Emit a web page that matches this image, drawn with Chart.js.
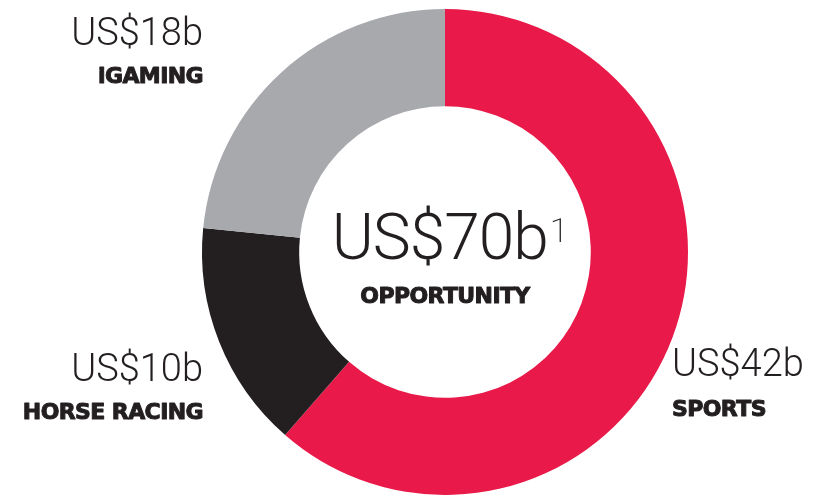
<!DOCTYPE html>
<html>
<head>
<meta charset="utf-8">
<script src="https://cdn.jsdelivr.net/npm/chart.js@4"></script>
<style>
  html, body { margin: 0; padding: 0; background: #fff; }
  #wrap { width: 828px; height: 495px; position: relative; }
</style>
</head>
<body>
<div id="wrap"><canvas id="myChart"></canvas></div>
<script>
// order: clockwise from 12 o'clock
var segments = ['SPORTS', 'HORSE RACING', 'iGAMING'];
// arc shares as drawn in the picture (labelled 42 / 10 / 18)
var values = [43, 10.6, 16.4];
var valueLabels = ['US$42b', 'US$10b', 'US$18b'];
var colors = ['#e91a4a', '#231f20', '#a7a9ac'];
var totalLabel = 'US$70b';
var totalNote = '1';
var totalName = 'OPPORTUNITY';

// label blocks: x, baseline of value, baseline of name, align
var labelPos = [
  { x: 672, y: 376, y2: 416, align: 'left' },
  { x: 203, y: 381, y2: 419, align: 'right' },
  { x: 203, y: 45, y2: 83, align: 'right' }
];

var thin = '300 38px Roboto';
var heavy = 'bold 22px "DejaVu Sans"';

function heavyText(ctx, s, x, y) {
  ctx.font = heavy;
  ctx.letterSpacing = '-0.6px';
  ctx.lineWidth = 1;
  ctx.lineJoin = 'round';
  ctx.strokeStyle = '#231f20';
  ctx.fillText(s, x, y);
  ctx.strokeText(s, x, y);
  ctx.letterSpacing = '0px';
}

var labelPlugin = {
  id: 'labels',
  afterDraw: function(chart) {
    var ctx = chart.ctx;
    var arc = chart.getDatasetMeta(0).data[0];
    ctx.save();
    ctx.fillStyle = '#231f20';
    ctx.textBaseline = 'alphabetic';
    segments.forEach(function(name, i) {
      var p = labelPos[i];
      ctx.textAlign = p.align;
      ctx.font = thin;
      ctx.fillText(valueLabels[i], p.x, p.y);
      heavyText(ctx, name, p.x, p.y2);
    });
    // centre text
    var cx = arc.x;
    ctx.font = '300 64px Roboto';
    ctx.letterSpacing = '-1px';
    var w = ctx.measureText(totalLabel).width;
    ctx.font = '200 34px Roboto';
    ctx.letterSpacing = '0px';
    var wn = ctx.measureText(totalNote).width;
    var left = cx - (w + 4 + wn) / 2 + 6;
    ctx.textAlign = 'left';
    ctx.font = '300 64px Roboto';
    ctx.letterSpacing = '-1px';
    ctx.fillText(totalLabel, left, 259);
    ctx.letterSpacing = '0px';
    ctx.font = '200 34px Roboto';
    ctx.fillText(totalNote, left + w + 2, 242);
    ctx.textAlign = 'center';
    heavyText(ctx, totalName, cx, 303);
    ctx.restore();
  }
};

var ctx = document.getElementById('myChart').getContext('2d');
var chart = new Chart(ctx, {
  type: 'doughnut',
  data: {
    labels: segments,
    datasets: [{
      data: values,
      backgroundColor: colors,
      borderWidth: 0
    }]
  },
  options: {
    responsive: true,
    maintainAspectRatio: false,
    animation: false,
    cutout: '60%',
    layout: { padding: { top: 9, bottom: 0, left: 202, right: 140 } },
    plugins: {
      legend: { display: false },
      tooltip: { enabled: false }
    }
  },
  plugins: [labelPlugin]
});
</script>
</body>
</html>
